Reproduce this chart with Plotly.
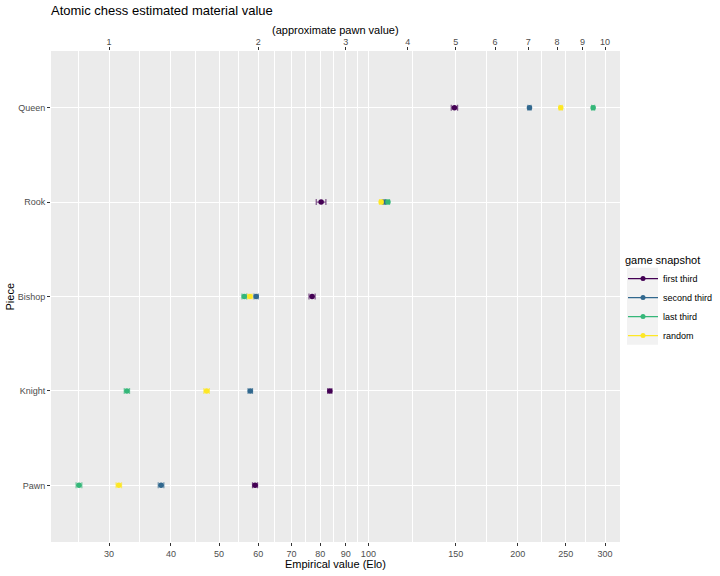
import math
import plotly.graph_objects as go

# ---- data (Elo values) ----
pieces = ["Pawn", "Knight", "Bishop", "Rook", "Queen"]
snapshots = ["first third", "second third", "last third", "random"]
colors = ["#440154", "#31688E", "#35B779", "#FDE725"]

first_third = [59.1, 83.6, 77.0, 80.3, 149.1]
second_third = [38.2, 57.8, 59.4, 107.5, 211.2]
last_third = [26.1, 32.6, 56.2, 109.5, 283.8]
random_snap = [31.4, 47.2, 57.7, 106.1, 244.2]

first_err = [0.7, 0.8, 1.1, 1.8, 2.2]
second_err = [0.5, 0.6, 0.6, 0.8, 1.6]
last_err = [0.35, 0.4, 0.6, 0.8, 2.0]
random_err = [0.4, 0.6, 0.6, 0.8, 1.8]

values = [first_third, second_third, last_third, random_snap]
errors = [first_err, second_err, last_err, random_err]

elo_ticks = [30, 40, 50, 60, 70, 80, 90, 100, 150, 200, 250, 300]
pawn_ticks = [1, 2, 3, 4, 5, 6, 7, 8, 9, 10]
PAWN_ELO = 30.0
x_limits = [22.92, 321.5]

FONT = "Liberation Sans, Arial, sans-serif"
GREY30 = "#4D4D4D"
GREY20 = "#333333"

PLOT_L, PLOT_R, PLOT_T, PLOT_B = 51, 620, 51, 542.5
PW, PH = PLOT_R - PLOT_L, PLOT_B - PLOT_T


def rgba(hexc, a):
    h = hexc.lstrip("#")
    r, g, b = int(h[0:2], 16), int(h[2:4], 16), int(h[4:6], 16)
    return f"rgba({r},{g},{b},{a})"


fig = go.Figure()

for name, col, vals, errs in zip(snapshots, colors, values, errors):
    fig.add_trace(go.Scatter(
        x=vals, y=pieces, mode="markers", name=name,
        marker=dict(color=col, size=5.5),
        error_x=dict(type="data", array=errs, color=rgba(col, 0.65),
                     thickness=1.2, width=3),
        showlegend=False, xaxis="x", yaxis="y",
    ))
    # legend entry (line + point, like the ggplot key)
    fig.add_trace(go.Scatter(
        x=[None], y=[None], mode="lines+markers", name=name,
        line=dict(color=col, width=1.2), marker=dict(color=col, size=5),
        showlegend=True, xaxis="x", yaxis="y",
    ))

# invisible trace to activate the secondary (pawn value) axis
fig.add_trace(go.Scatter(
    x=[pawn_ticks[0]], y=[pieces[0]], mode="markers",
    marker=dict(opacity=0), showlegend=False, hoverinfo="skip",
    xaxis="x2", yaxis="y",
))

minor_vals = [math.sqrt(elo_ticks[0] * elo_ticks[0] ** 2 / elo_ticks[1])]
minor_vals += [math.sqrt(a * b) for a, b in zip(elo_ticks[:-1], elo_ticks[1:])]

lo, hi = math.log10(x_limits[0]), math.log10(x_limits[1])
off = math.log10(PAWN_ELO)

LEG_X = 623  # legend origin in pixels

fig.update_layout(
    width=720, height=576,
    margin=dict(l=PLOT_L, r=720 - PLOT_R, t=PLOT_T, b=576 - PLOT_B,
                autoexpand=False),
    paper_bgcolor="white", plot_bgcolor="#EBEBEB",
    font=dict(family=FONT, color="black", size=11),
    title=dict(text="Atomic chess estimated material value",
               x=PLOT_L / 720, xanchor="left", xref="container",
               y=1 - 10 / 576, yanchor="middle", yref="container",
               font=dict(size=13, color="black")),
    xaxis=dict(
        type="log", range=[lo, hi],
        tickmode="array", tickvals=elo_ticks,
        ticktext=[str(v) for v in elo_ticks],
        ticks="outside", ticklen=3, tickcolor=GREY20, tickwidth=1,
        tickfont=dict(size=9, color=GREY30),
        showgrid=True, gridcolor="white", gridwidth=1.4,
        minor=dict(tickmode="array", tickvals=minor_vals, showgrid=True,
                   gridcolor="white", gridwidth=0.7, ticks=""),
        showline=False, zeroline=False,
    ),
    xaxis2=dict(
        type="log", range=[lo - off, hi - off], overlaying="x", side="top",
        anchor="y",
        tickmode="array", tickvals=pawn_ticks,
        ticktext=[str(v) for v in pawn_ticks],
        ticks="outside", ticklen=3, tickcolor=GREY20, tickwidth=1,
        tickfont=dict(size=9, color=GREY30), ticklabelstandoff=-2,
        showgrid=False, showline=False, zeroline=False,
    ),
    yaxis=dict(
        type="category", categoryorder="array", categoryarray=pieces,
        range=[-0.6, len(pieces) - 0.4],
        ticks="outside", ticklen=3, tickcolor=GREY20, tickwidth=1,
        tickfont=dict(size=9, color=GREY30),
        showgrid=True, gridcolor="white", gridwidth=1.4,
        showline=False, zeroline=False,
    ),
    legend=dict(
        title=dict(text="game snapshot", font=dict(size=11, color="black")),
        font=dict(size=9, color="black"),
        x=(LEG_X - PLOT_L) / PW, xanchor="left", xref="paper",
        y=(PLOT_B - 250) / PH, yanchor="top",
        bgcolor="rgba(0,0,0,0)", itemwidth=30,
    ),
    annotations=[
        dict(text="Empirical value (Elo)", xref="paper", yref="paper",
             x=0.5, y=-(565 - PLOT_B) / PH, xanchor="center", yanchor="middle",
             showarrow=False, font=dict(size=11, color="black")),
        dict(text="(approximate pawn value)", xref="paper", yref="paper",
             x=0.5, y=1 + (PLOT_T - 30) / PH, xanchor="center", yanchor="middle",
             showarrow=False, font=dict(size=11, color="black")),
        dict(text="Piece", xref="paper", yref="paper",
             x=-(PLOT_L - 9) / PW, y=0.5, xanchor="center", yanchor="middle",
             textangle=-90, showarrow=False, font=dict(size=11, color="black")),
    ],
    shapes=[
        # grey key background behind the legend symbols (as in ggplot keys)
        dict(type="rect", xref="paper", yref="paper",
             x0=(LEG_X + 4 - PLOT_L) / PW, x1=(LEG_X + 35 - PLOT_L) / PW,
             y0=(PLOT_B - 268) / PH, y1=(PLOT_B - 345) / PH,
             fillcolor="#F2F2F2", line=dict(width=0), layer="below"),
    ],
)

fig.write_html("out.html")
